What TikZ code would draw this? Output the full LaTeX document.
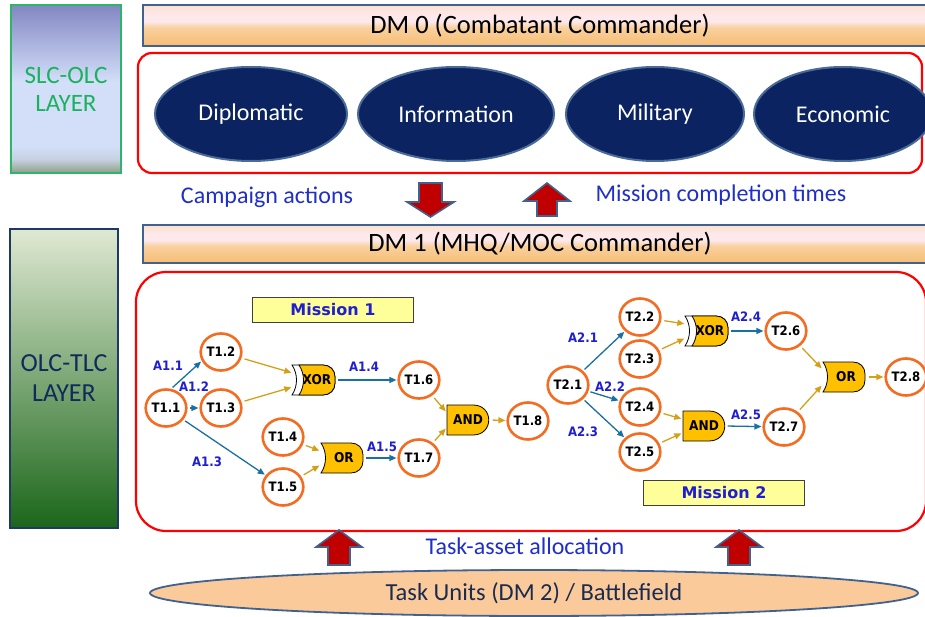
\documentclass[tikz,border=0pt]{standalone}
\usepackage{fontspec}
\setmainfont{Carlito}
\newfontfamily\tasksf{DejaVu Sans}[FakeStretch=0.9]
\newfontfamily\missionsf{DejaVu Sans}
\usetikzlibrary{shapes.geometric,arrows.meta}

\definecolor{navyfill}{HTML}{0B2360}
\definecolor{navyedge}{HTML}{4A6A98}
\definecolor{barline}{HTML}{41618F}
\definecolor{redline}{HTML}{FF0000}
\definecolor{taskorange}{HTML}{F36C21}
\definecolor{gatefill}{HTML}{FFC000}
\definecolor{flowblue}{HTML}{1A6FA3}
\definecolor{flowgold}{HTML}{D4A017}
\definecolor{labelblue}{HTML}{1F1FD0}
\definecolor{captionblue}{HTML}{1F2FC8}
\definecolor{blockred}{HTML}{C00000}
\definecolor{missionfill}{HTML}{FFFF99}
\definecolor{peach}{HTML}{FBCA9A}
\definecolor{textnavy}{HTML}{1A2B50}
\definecolor{slcgreen}{HTML}{1AB25E}
\definecolor{slcborder}{HTML}{2DB56A}
\definecolor{olcborder}{HTML}{1F3864}
\definecolor{olctext}{HTML}{102A5C}
% layer shadings
\definecolor{slcbot}{HTML}{8F9F86}
\definecolor{slcmid}{HTML}{C5D0E0}
\definecolor{slclight}{HTML}{D3DFF9}
\definecolor{slctop}{HTML}{8387C3}
\definecolor{barbot}{HTML}{F6BD75}
\definecolor{barorange}{HTML}{F9D09C}
\definecolor{barmid}{HTML}{FDE8EC}
\definecolor{bartop}{HTML}{FCE2CE}
\definecolor{olctop}{HTML}{DFE9D2}
\definecolor{olcmid}{HTML}{90B27A}
\definecolor{olcbot}{HTML}{1B661A}

\pgfdeclareverticalshading{slcshade}{100bp}{color(0bp)=(slcbot); color(25bp)=(slcbot); color(29bp)=(slcmid); color(33bp)=(slclight); color(52bp)=(slclight); color(75bp)=(slctop); color(100bp)=(slctop)}
\pgfdeclareverticalshading{barshade}{100bp}{color(0bp)=(barbot); color(25bp)=(barbot); color(47bp)=(barorange); color(55bp)=(barmid); color(63bp)=(barmid); color(75bp)=(bartop); color(100bp)=(bartop)}

% logic gates: name, x, y
\newcommand\andgate[3]{%
  \begin{scope}[shift={(#2,#3)}]
    \draw[gateline] (-21,-15) -- (5,-15) .. controls (26,-15) and (26,15) .. (5,15) -- (-21,15) -- cycle;
  \end{scope}
  \node[gatebox] (#1) at (#2,#3) {};
  \node[gatetext] (#1txt) at (#2,#3) {AND};
}
\newcommand\orgate[3]{%
  \begin{scope}[shift={(#2,#3)}]
    \draw[gateline] (-21,-15) -- (9,-15) .. controls (16,-15) and (21,-10) .. (21,-3) -- (21,3) .. controls (21,10) and (16,15) .. (9,15) -- (-21,15) .. controls (-15,6) and (-15,-6) .. (-21,-15) -- cycle;
  \end{scope}
  \node[gatebox] (#1) at (#2,#3) {};
  \node[gatetext] (#1txt) at (#2+2,#3) {OR};
}
\newcommand\xorgate[3]{%
  \begin{scope}[shift={(#2,#3)}]
    \draw[gateline,fill=white] (-22,-15) -- (9,-15) .. controls (16,-15) and (21,-10) .. (21,-3) -- (21,3) .. controls (21,10) and (16,15) .. (9,15) -- (-22,15) .. controls (-16,6) and (-16,-6) .. (-22,-15) -- cycle;
    \draw[gateline] (-15,-15) -- (9,-15) .. controls (16,-15) and (21,-10) .. (21,-3) -- (21,3) .. controls (21,10) and (16,15) .. (9,15) -- (-15,15) .. controls (-9,6) and (-9,-6) .. (-15,-15) -- cycle;
  \end{scope}
  \node[gatebox] (#1) at (#2,#3) {};
  \node[gatetext] (#1txt) at (#2+3,#3) {XOR};
}

\begin{document}
\begin{tikzpicture}[x=1pt,y=-1pt,
  layerbox/.style={minimum width=110pt,inner sep=0pt,align=center,line width=1.5pt},
  dmbar/.style={draw=barline,line width=2.2pt,shade,shading=barshade,minimum width=794pt,
    inner sep=0pt,font=\fontsize{26.5}{30}\selectfont},
  redbox/.style={draw=redline,line width=2.2pt,inner sep=0pt},
  domainellipse/.style={ellipse,fill=navyfill,draw=navyedge,line width=2pt,text=white,inner sep=0pt,
    minimum height=94pt,font=\fontsize{24}{28}\selectfont},
  captiontext/.style={text=captionblue,inner sep=0pt,font=\fontsize{24}{28}\selectfont},
  blockarrow/.style={fill=blockred,draw=barline,line width=1.6pt,line join=miter},
  missionbox/.style={fill=missionfill,draw=black!75,line width=1.2pt,minimum width=161pt,
    minimum height=25pt,inner sep=0pt,text=labelblue,font=\missionsf\bfseries\fontsize{16}{18}\selectfont},
  taskcircle/.style={ellipse,draw=taskorange,fill=white,line width=2.6pt,minimum width=40pt,
    minimum height=37pt,inner sep=0pt,font=\tasksf\bfseries\fontsize{13}{15}\selectfont},
  gateline/.style={draw=black,fill=gatefill,line width=0.8pt},
  gatebox/.style={rectangle,minimum width=43pt,minimum height=30pt,inner sep=0pt},
  gatetext/.style={inner sep=0pt,font=\tasksf\bfseries\fontsize{13.5}{15}\selectfont},
  alabel/.style={inner sep=0pt,text=labelblue,font=\tasksf\bfseries\fontsize{13}{15}\selectfont},
  flowb/.style={draw=flowblue,line width=1.3pt,-{Triangle[length=7pt,width=6pt]},shorten >=1pt,shorten <=2pt},
  flowg/.style={draw=flowgold,line width=1.3pt,-{Triangle[length=7pt,width=6pt]},shorten >=1pt,shorten <=3pt}
]
\useasboundingbox (0,0) rectangle (925,617);

% ---- layer labels ----
\node[layerbox,draw=slcborder,shade,shading=slcshade,minimum height=168pt,text=slcgreen,
  font=\fontsize{25}{28}\selectfont] (slc) at (66,89) {SLC-OLC\\LAYER};
\node[layerbox,draw=olcborder,top color=olctop,middle color=olcmid,bottom color=olcbot,
  minimum width=108pt,minimum height=299pt,text=olctext,font=\fontsize{26}{30}\selectfont]
  (olc) at (64,378.5) {OLC-TLC\\LAYER};

% ---- strategic level ----
\node[dmbar,minimum height=41pt] (dm0) at (540,25.5) {DM 0 (Combatant Commander)};
\node[redbox,rounded corners=14pt,minimum width=784pt,minimum height=120pt] (slcframe) at (530,113) {};
\node[domainellipse,minimum width=192pt] (dip) at (251,114) {Diplomatic};
\node[domainellipse,minimum width=196pt] (inf) at (456,114) {Information};
\node[domainellipse,minimum width=178pt] (mil) at (655,114) {Military};
\node[domainellipse,minimum width=178pt] (eco) at (843,114) {Economic};

\node[captiontext] (camp) at (267,197) {Campaign actions};
\node[captiontext] (mct) at (721,195) {Mission completion times};
\draw[blockarrow] (419,183) -- (442,183) -- (442,202) -- (454,202) -- (430.5,217) -- (407,202) -- (419,202) -- cycle;
\draw[blockarrow] (537,216) -- (557,216) -- (557,201) -- (570,201) -- (547,183) -- (524,201) -- (537,201) -- cycle;

% ---- operational level ----
\node[dmbar,minimum height=38pt] (dm1) at (540,244) {DM 1 (MHQ/MOC Commander)};
\node[redbox,rounded corners=30pt,minimum width=790pt,minimum height=259pt] (olcframe) at (531,401.5) {};

\node[missionbox] (m1) at (333,310) {Mission 1};
\node[missionbox] (m2) at (724,493) {Mission 2};

% mission 1 tasks
\node[taskcircle] (t11) at (166,408) {T1.1};
\node[taskcircle] (t12) at (221,352) {T1.2};
\node[taskcircle] (t13) at (221,408) {T1.3};
\node[taskcircle] (t14) at (283,437) {T1.4};
\node[taskcircle] (t15) at (283,487) {T1.5};
\node[taskcircle] (t16) at (419,380) {T1.6};
\node[taskcircle] (t17) at (419,458) {T1.7};
\node[taskcircle] (t18) at (528,421) {T1.8};
\xorgate{x1}{314}{380}
\orgate{o1}{342}{458}
\andgate{a1}{468}{420}

% mission 2 tasks
\node[taskcircle] (t21) at (568,385) {T2.1};
\node[taskcircle] (t22) at (640,317) {T2.2};
\node[taskcircle] (t23) at (640,359) {T2.3};
\node[taskcircle] (t24) at (640,407) {T2.4};
\node[taskcircle] (t25) at (640,452) {T2.5};
\node[taskcircle] (t26) at (786,331) {T2.6};
\node[taskcircle] (t27) at (784,427) {T2.7};
\node[taskcircle] (t28) at (906,377) {T2.8};
\xorgate{x2}{707}{331}
\andgate{a2}{704}{426}
\orgate{o2}{844}{377}

% mission 1 flows
\draw[flowb] (t11.75) -- (t12.205);
\draw[flowb] (t11) -- (t13);
\draw[flowb] (t11) -- (t15);
\draw[flowg] (t12) -- (x1.162);
\draw[flowg] (t13) -- (x1.198);
\draw[flowg] (t14) -- (o1.162);
\draw[flowg] (t15) -- (o1.198);
\draw[flowb] (x1.east) -- (t16);
\draw[flowb] (o1.east) -- (t17);
\draw[flowg] (t16) -- (a1.160);
\draw[flowg] (t17) -- (a1.200);
\draw[flowg] (a1.east) -- (t18);

% mission 2 flows
\draw[flowb] (t21) -- (t22);
\draw[flowb] (t21) -- (t24);
\draw[flowb] (t21) -- (t25);
\draw[flowg] (t22) -- (x2.162);
\draw[flowg] (t23) -- (x2.198);
\draw[flowg] (t24) -- (a2.162);
\draw[flowg] (t25) -- (a2.198);
\draw[flowb] (x2.east) -- (t26);
\draw[flowb] (a2.east) -- (t27);
\draw[flowg] (t26) -- (o2.160);
\draw[flowg] (t27) -- (o2.200);
\draw[flowg] (o2.east) -- (t28);

% action labels
\node[alabel] (la11) at (168,366) {A1.1};
\node[alabel] (la12) at (194,387) {A1.2};
\node[alabel] (la13) at (207,462) {A1.3};
\node[alabel] (la14) at (364,367) {A1.4};
\node[alabel] (la15) at (382,447) {A1.5};
\node[alabel] (la21) at (583,338) {A2.1};
\node[alabel] (la22) at (610,387) {A2.2};
\node[alabel] (la23) at (583,432) {A2.3};
\node[alabel] (la24) at (746,317) {A2.4};
\node[alabel] (la25) at (746,415) {A2.5};

% ---- tactical level ----
\node[captiontext] (alloc) at (525,546) {Task-asset allocation};
\draw[blockarrow] (328,565) -- (350,565) -- (350,547) -- (362,547) -- (339,530) -- (316,547) -- (328,547) -- cycle;
\draw[blockarrow] (728,565) -- (750,565) -- (750,547) -- (762,547) -- (739,530) -- (716,547) -- (728,547) -- cycle;
\node[ellipse,fill=peach,draw=barline,line width=1.8pt,minimum width=768pt,minimum height=46pt,
  inner sep=0pt,text=textnavy,font=\fontsize{24.5}{28}\selectfont] (units) at (534,593)
  {Task Units (DM 2) / Battlefield};
\end{tikzpicture}
\end{document}
